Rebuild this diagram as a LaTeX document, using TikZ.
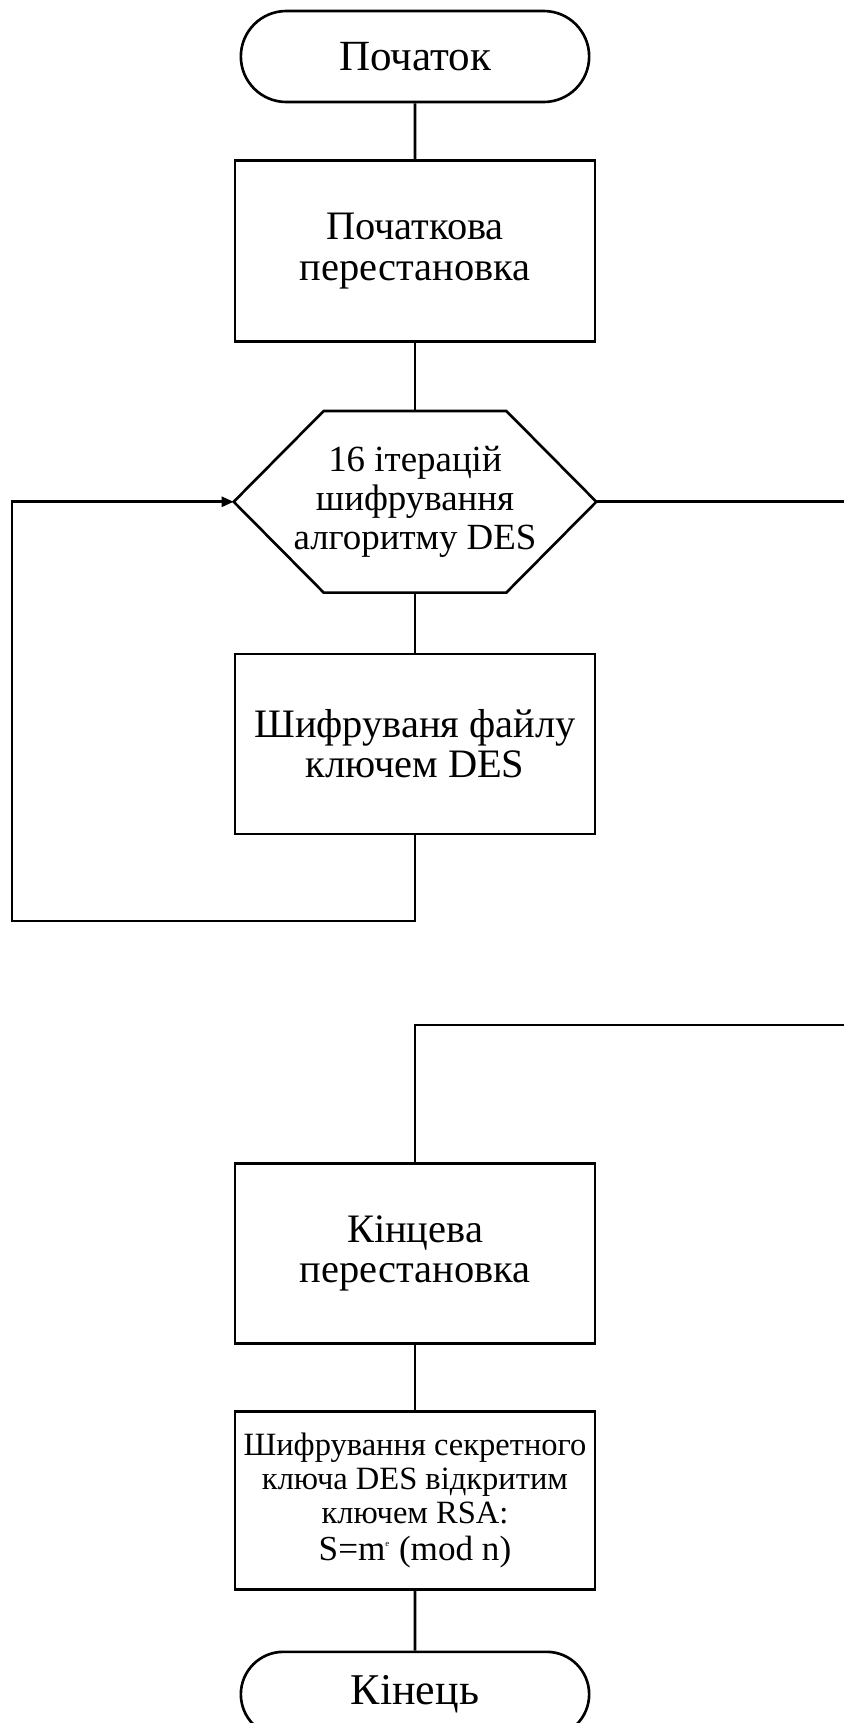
\documentclass[tikz,border=0pt]{standalone}
\usepackage{fontspec}
\setmainfont{Liberation Serif}
\usepackage{tikz}
\usetikzlibrary{shapes.misc, positioning, arrows.meta, calc}

\begin{document}
\begin{tikzpicture}[
        >={Triangle[length=2.4mm, width=2mm]},
        line width=1.5pt,
        term/.style={draw, rounded rectangle, minimum width=7.2cm, minimum height=1.82cm, font=\fontsize{24.5}{25}\selectfont},
        proc/.style={draw, rectangle, minimum width=7.2cm, minimum height=3.6cm, align=center, font=\fontsize{23}{23}\selectfont},
        hexbox/.style={rectangle, minimum width=7.2cm, minimum height=3.58cm, align=center, font=\fontsize{21}{22}\selectfont}
    ]

    \useasboundingbox (0,0) rectangle (16.88,-34.46);

    % --- Start ---
    \node[term] (start) at (8.3,-1.13) {Початок};

    % --- Initial permutation ---
    \node[proc, below=1.12cm of start, minimum height=3.62cm] (perm) {Початкова\\перестановка};

    % --- 16 rounds (hexagon drawn round the node) ---
    \node[hexbox, below=1.36cm of perm] (iter) {16 ітерацій\\шифрування\\алгоритму DES};
    \draw ([xshift=1.8cm]iter.north west) -- ([xshift=-1.8cm]iter.north east) -- (iter.east)
        -- ([xshift=-1.8cm]iter.south east) -- ([xshift=1.8cm]iter.south west) -- (iter.west) -- cycle;

    % --- File encryption ---
    \node[proc, below=1.2cm of iter] (encfile) {Шифруваня файлу\\ключем DES};

    % --- Final permutation ---
    \node[proc, below=6.54cm of encfile] (finperm) {Кінцева\\перестановка};

    % --- RSA key encryption ---
    \node[proc, below=1.3cm of finperm, minimum height=3.56cm, font=\fontsize{18.5}{19.5}\selectfont] (rsa)
        {Шифрування секретного\\ключа DES відкритим\\ключем RSA:\\[1pt]
         {\fontsize{20}{21}\selectfont S=m\textsuperscript{\tiny e} (mod n)}};

    % --- End ---
    \node[term, below=1.2cm of rsa, minimum height=1.7cm, font=\fontsize{25}{26}\selectfont] (stop) {Кінець};

    % --- Free ends of the connectors ---
    \coordinate (loopcorner) at (0.24,-18.42);
    \coordinate (rightedge) at (16.88,-20.5);

    % --- Connectors ---
    \draw (start) -- (perm);
    \draw (perm) -- (iter.north);
    \draw (iter.south) -- (encfile);
    \draw[->] (encfile.south) |- (loopcorner) |- (iter.west);
    \draw (iter.east) -- (iter.east -| rightedge);
    \draw (rightedge) -| (finperm.north);
    \draw (finperm) -- (rsa);
    \draw (rsa) -- (stop);

\end{tikzpicture}
\end{document}
